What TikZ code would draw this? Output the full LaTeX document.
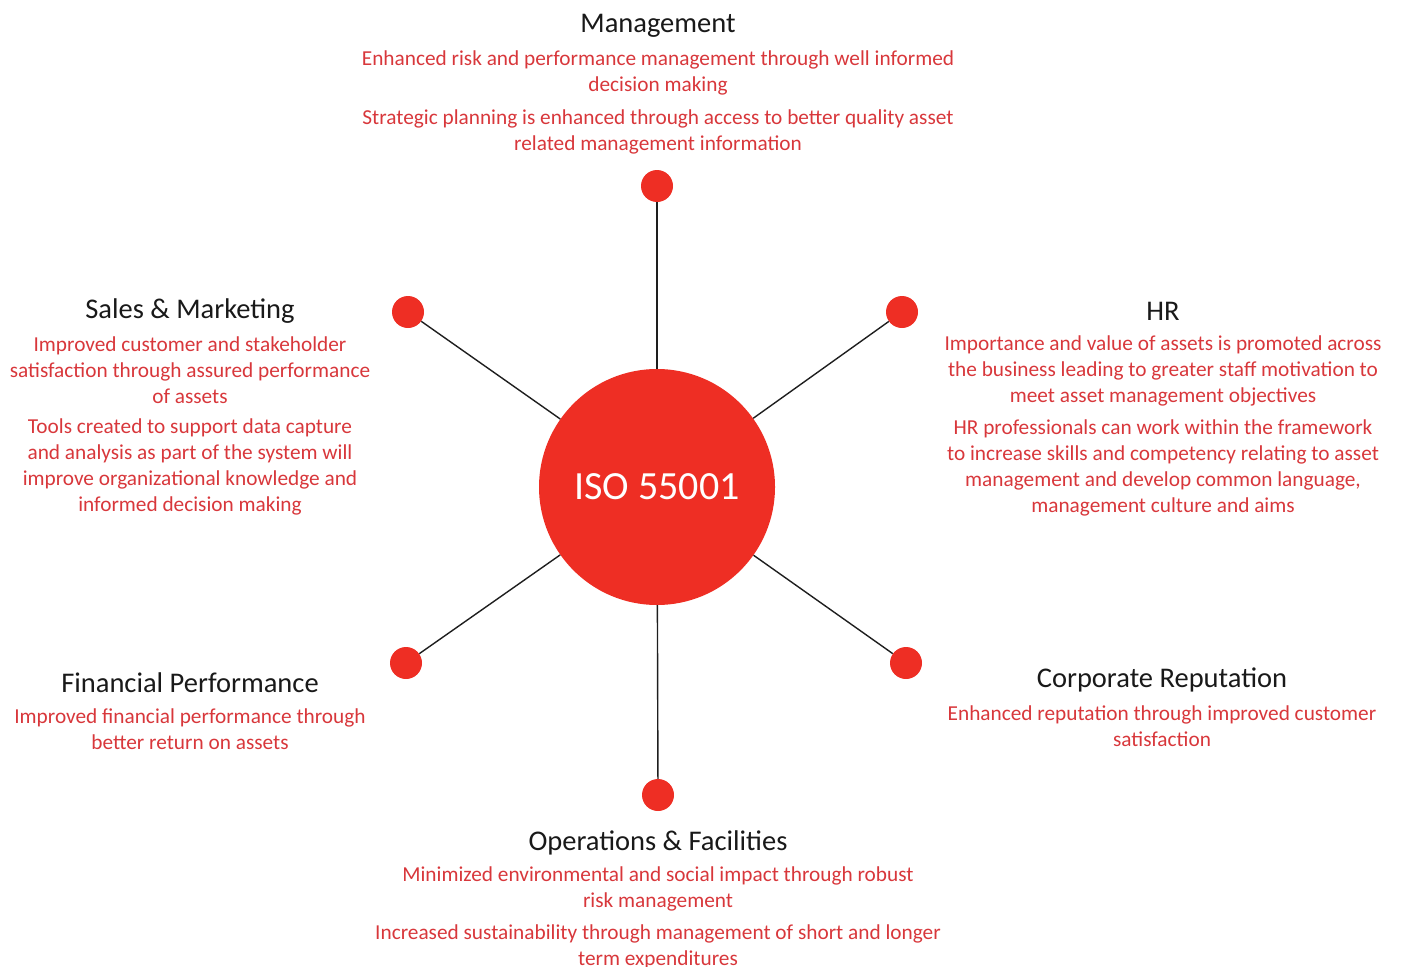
\documentclass[tikz,border=0pt]{standalone}
\usepackage{fontspec}
\setmainfont{Carlito}
\definecolor{isored}{HTML}{EE2E24}
\definecolor{txtred}{HTML}{D8373B}
\definecolor{linegray}{HTML}{1E1E1E}
\begin{document}
\begin{tikzpicture}[x=1pt,y=-1pt,
  dot/.style={circle,fill=isored,minimum size=32pt,inner sep=0pt},
  hub/.style={circle,fill=isored,minimum size=236pt,inner sep=0pt,text=white,font=\fontsize{40}{44}\selectfont},
  spoke/.style={draw=linegray,line width=1.4pt},
  ttl/.style={text=black!90,font=\fontsize{28.5}{30}\selectfont,inner sep=0pt},
  desc/.style={text=txtred,font=\fontsize{21.3}{26}\selectfont,align=center,inner sep=0pt}
]
\useasboundingbox (0,0) rectangle (1402,966);
\node[hub] (c) at (657,487) {ISO 55001};
\node[dot] (dm) at (657,186) {};
\node[dot] (ds) at (408,312) {};
\node[dot] (dh) at (902,312) {};
\node[dot] (df) at (406,663) {};
\node[dot] (dc) at (906,663) {};
\node[dot] (do) at (658,795) {};
\foreach \d in {dm,ds,dh,df,dc,do} \draw[spoke] (c) -- (\d);
% Management
\node[ttl] (tm) at (658,26) {Management};
\node[desc] (m1) at (658,73) {Enhanced risk and performance management through well informed\\decision making};
\node[desc] (m2) at (658,132) {Strategic planning is enhanced through access to better quality asset\\related management information};
% Sales
\node[ttl] (ts) at (190,311) {Sales \& Marketing};
\node[desc] (s1) at (190,370) {Improved customer and stakeholder\\satisfaction through assured performance\\of assets};
\node[desc] (s2) at (190,466.5) {Tools created to support data capture\\and analysis as part of the system will\\improve organizational knowledge and\\informed decision making};
% HR
\node[ttl] (th) at (1163,311) {HR};
\node[desc] (h1) at (1163,370.5) {Importance and value of assets is promoted across\\the business leading to greater staff motivation to\\meet asset management objectives};
\node[desc] (h2) at (1163,467.5) {HR professionals can work within the framework\\to increase skills and competency relating to asset\\management and develop common language,\\management culture and aims};
% Financial
\node[ttl] (tf) at (190,683) {Financial Performance};
\node[desc] (f1) at (190,729) {Improved financial performance through\\better return on assets};
% Corporate
\node[ttl] (tc) at (1162,680) {Corporate Reputation};
\node[desc] (c1) at (1162,726) {Enhanced reputation through improved customer\\satisfaction};
% Operations
\node[ttl] (to) at (658,843) {Operations \& Facilities};
\node[desc] (o1) at (658,889) {Minimized environmental and social impact through robust\\risk management};
\node[desc] (o2) at (658,947) {Increased sustainability through management of short and longer\\term expenditures};
\end{tikzpicture}
\end{document}
